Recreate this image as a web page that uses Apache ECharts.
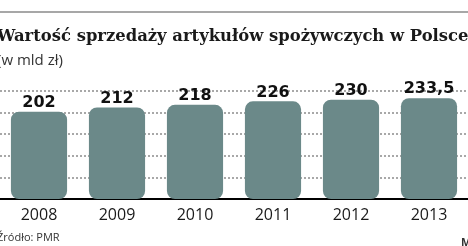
<!DOCTYPE html>
<html lang="pl">
<head>
    <meta charset="utf-8" />
    <title>Wartość sprzedaży artykułów spożywczych w Polsce</title>
    <script src="https://cdn.jsdelivr.net/npm/echarts@6/dist/echarts.min.js"></script>
    <style>
        html, body { margin: 0; padding: 0; background: #fff; }
        #main { width: 468px; height: 246px; }
    </style>
</head>
<body>
<div id="main"></div>
<script type="text/javascript">
    // dane
    let years = ['2008', '2009', '2010', '2011', '2012', '2013']
    let values = [202, 212, 218, 226, 230, 233.5]

    let barColor = '#6b8989'
    let textDark = '#1a1a1a'

    let myChart = echarts.init(document.getElementById('main'), null, {renderer: 'canvas'})

    myChart.setOption({
        animation: false,
        graphic: [
            {type: 'line', shape: {x1: 0, y1: 12, x2: 468, y2: 12}, style: {stroke: '#8a8a8a', lineWidth: 1.5}},
            {type: 'text', left: -3, top: 29, style: {text: 'Wartość sprzedaży artykułów spożywczych w Polsce',
                font: 'bold 16.4px "DejaVu Serif"', fill: '#1a1a1a'}},
            {type: 'text', left: -3, top: 53, style: {text: '(w mld zł)', font: '15px "Open Sans"', fill: '#333'}},
            {type: 'text', left: -3, top: 232, style: {text: 'Źródło: PMR', font: '11px "Open Sans"', fill: '#333'}},
            {type: 'text', left: 461, top: 237, style: {text: 'M', font: 'bold 11px "Open Sans"', fill: '#333'}}
        ],
        grid: {left: -5, right: -3, top: 91, height: 108, containLabel: false},
        xAxis: {
            type: 'category',
            data: years,
            axisLine: {lineStyle: {color: '#000', width: 2}},
            axisTick: {show: false},
            axisLabel: {color: textDark, fontSize: 16, fontFamily: 'Open Sans', margin: 8}
        },
        yAxis: {
            type: 'value',
            min: 0,
            max: 250,
            interval: 50,
            axisLine: {show: false},
            axisTick: {show: false},
            axisLabel: {show: false},
            splitLine: {lineStyle: {color: '#8c8c8c', type: [2, 2], width: 1.5}}
        },
        series: [{
            type: 'bar',
            data: values,
            barWidth: '72%',
            itemStyle: {color: barColor, borderRadius: 8},
            label: {
                show: true,
                position: 'top',
                distance: 1,
                color: '#111',
                fontSize: 16,
                fontWeight: 'bold',
                fontFamily: 'DejaVu Sans',
                formatter: function (p) { return String(p.value).replace('.', ',') }
            }
        }]
    })
</script>
</body>
</html>
